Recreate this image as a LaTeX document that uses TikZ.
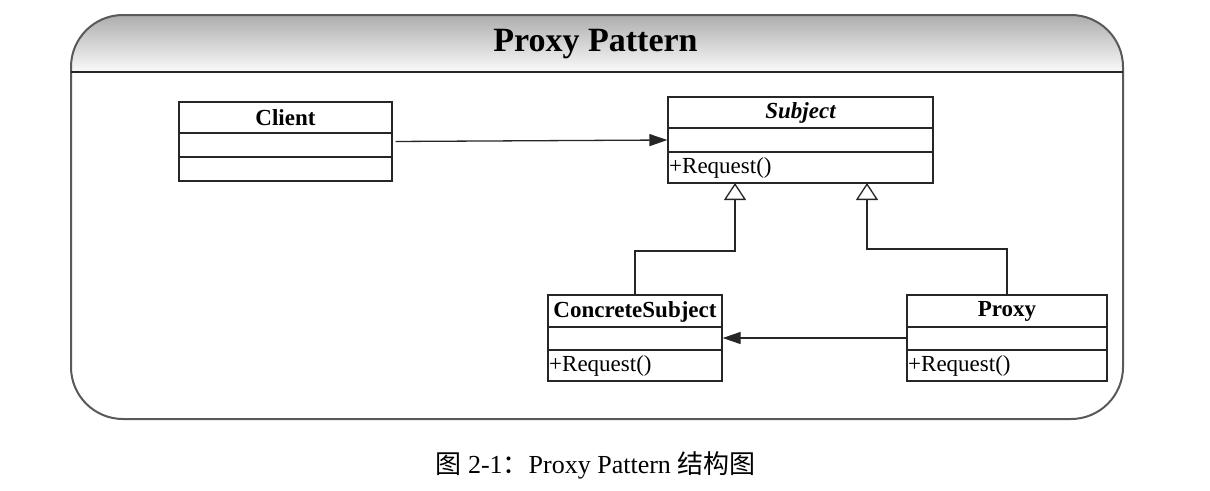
\documentclass[tikz,border=0pt]{standalone}
\usepackage{fontspec}
\setmainfont{Liberation Serif}
\newfontfamily\cjk{Noto Sans CJK SC}
\usetikzlibrary{arrows.meta,calc}
\begin{document}
\begin{tikzpicture}[x=1pt,y=-1pt,
  cls/.style={draw=black!85,line width=1.3pt,rectangle,inner sep=0pt,fill=white},
  ctitle/.style={font=\fontsize{23}{27}\selectfont\bfseries,inner sep=0pt,anchor=center},
  cop/.style={font=\fontsize{23}{27}\selectfont,inner sep=0pt,anchor=west},
  divider/.style={draw=black!85,line width=1.3pt},
  assoc/.style={draw=black!85,line width=1.3pt,-{Triangle[length=18pt,width=12pt]}},
  inherit/.style={draw=black!85,line width=1.3pt,-{Triangle[open,length=17pt,width=22pt,fill=white]}},
  frame/.style={draw=black!65,line width=2pt}]
\useasboundingbox (0,0) rectangle (1210,490);
% frame
\begin{scope}
  \clip[rounded corners=52pt] (71,15) rectangle (1123,419);
  \shade[top color=black!32,bottom color=black!2] (71,15) rectangle (1123,72);
\end{scope}
\draw[frame,rounded corners=52pt] (71,15) rectangle (1123,419);
\draw[draw=black!85,line width=1.5pt] (71,72) -- (1123,72);
\node[font=\fontsize{34}{39}\selectfont\bfseries,inner sep=0pt] (title) at (595.5,44) {Proxy Pattern};
% classes
\node[cls,minimum width=213pt,minimum height=79pt] (client) at (285.5,141.5) {};
\draw[divider] (179,133) -- (392,133);
\draw[divider] (179,157) -- (392,157);
\node[ctitle] (clientT) at (285.5,117.5) {Client};

\node[cls,minimum width=265pt,minimum height=86pt] (subject) at (800.5,140) {};
\draw[divider] (668,128) -- (933,128);
\draw[divider] (668,152) -- (933,152);
\node[ctitle,font=\fontsize{23}{27}\selectfont\bfseries\itshape] (subjectT) at (800.5,112.5) {Subject};
\node[cop] (subjectOp) at (669,167.5) {+Request()};

\node[cls,minimum width=174pt,minimum height=86pt] (cs) at (635,338) {};
\draw[divider] (548,327) -- (722,327);
\draw[divider] (548,350) -- (722,350);
\node[ctitle] (csT) at (635,311.5) {ConcreteSubject};
\node[cop] (csOp) at (549,366) {+Request()};

\node[cls,minimum width=200pt,minimum height=86pt] (proxy) at (1007,338) {};
\draw[divider] (907,327) -- (1107,327);
\draw[divider] (907,350) -- (1107,350);
\node[ctitle] (proxyT) at (1007,311.5) {Proxy};
\node[cop] (proxyOp) at (908,366) {+Request()};

% connectors
\coordinate (t1) at (735,183);
\coordinate (t2) at (867,183);
\draw[assoc,shorten <=3pt] (client.east) -- (subject.west);
\draw[assoc] (proxy.west) -- (cs.east);
\draw[inherit] (cs.north) |- (735,251) -- (t1);
\draw[inherit] (proxy.north) |- (867,249) -- (t2);
% caption
\node[font=\fontsize{26}{30}\selectfont,inner sep=0pt] (caption) at (595.5,465) {{\cjk 图} 2-1{\cjk ：}Proxy Pattern {\cjk 结构图}};
\end{tikzpicture}
\end{document}
